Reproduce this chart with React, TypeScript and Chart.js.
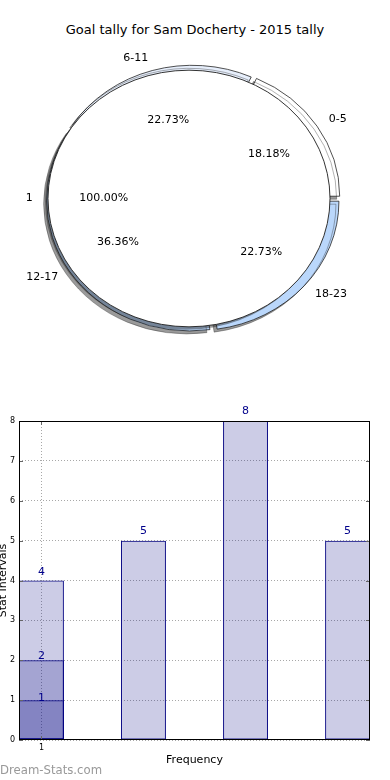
import React, { useEffect, useRef } from 'react';
import { Chart, registerables } from 'chart.js';

Chart.register(...registerables);

const FONT = "'DejaVu Sans', 'Bitstream Vera Sans', sans-serif";

// ---------- Pie data ----------
const pieTitle = 'Goal tally for Sam Docherty - 2015 tally';
const intervalLabels = ['0-5', '6-11', '12-17', '18-23'];
const intervalCounts = [4, 5, 8, 5];
const intervalColors = ['#ffffff', '#e7effc', '#bad7fb', '#bad7fb'];
const matchLabels = ['1'];
const matchCounts = [22];
const matchColors = ['#ffffff'];

// ---------- Bar data ----------
const barPositions = [0, 1, 2, 3];
const barValues = [4, 5, 8, 5];
const overlayPositions = [0];
const overlayMid = [2];
const overlayLow = [1];
const xTickPositions = [0];
const xTickLabels = ['1'];
const yAxisMin = 0;
const yAxisMax = 8;
const yAxisStep = 1;
const xAxisTitle = 'Frequency';
const yAxisTitle = 'Stat Intervals';
const watermark = 'Dream-Stats.com';

// ---------- Styling ----------
const SY = 0.91; // vertical squash of the pie (ellipse)
const PIE_R = 142;
const INNER_R = 136.5;
const EXPLODE = 18; // Chart.js offset (drawn as offset / 4 px)
const BAR_WIDTH = 0.44;
const BAR_FILL = 'rgba(0,0,128,0.2)';
const BAR_EDGE = '#000080';
const GRID = '#a8a8a8';

const ellipsePlugin = {
  id: 'ellipse',
  beforeDatasetsDraw(chart: any) {
    const ctx = chart.ctx;
    ctx.save();
    const arc = chart.getDatasetMeta(0).data[0];
    if (!arc) return;
    ctx.translate(arc.x, arc.y);
    ctx.scale(1, SY);
    ctx.translate(-arc.x, -arc.y);
    ctx.shadowColor = 'rgba(30,30,30,0.45)';
    ctx.shadowOffsetX = -3;
    ctx.shadowOffsetY = 3;
    ctx.shadowBlur = 0;
  },
  afterDatasetsDraw(chart: any, _args: any, opts: any) {
    const ctx = chart.ctx;
    const arc = chart.getDatasetMeta(0).data[0];
    if (arc && opts && opts.outline) {
      // full single slice: redraw as a seamless circle (no radial seam) and outline it
      const e = (arc.options.offset || 0) / 4;
      const mid = (arc.startAngle + arc.endAngle) / 2;
      ctx.shadowColor = 'rgba(0,0,0,0)';
      ctx.beginPath();
      ctx.arc(arc.x + Math.cos(mid) * e, arc.y + Math.sin(mid) * e, arc.outerRadius + e, 0, Math.PI * 2);
      ctx.fillStyle = arc.options.backgroundColor;
      ctx.fill();
      ctx.lineWidth = 0.9;
      ctx.strokeStyle = '#111';
      ctx.stroke();
    }
    ctx.restore();
  },
};

function makePieLabelPlugin(getOuter: () => any) {
  return {
    id: 'pieLabels',
    afterDraw(chart: any) {
      const outer = getOuter();
      if (!outer) return;
      const refArc = outer.getDatasetMeta(0).data[0];
      if (!refArc) return;
      const R = refArc.outerRadius;
      const ctx = chart.ctx;
      ctx.save();
      ctx.font = `11px ${FONT}`;
      ctx.fillStyle = '#000';
      ctx.textBaseline = 'middle';
      for (const c of [outer, chart]) {
        const meta = c.getDatasetMeta(0);
        const values = c.data.datasets[0].data as number[];
        const total = values.reduce((s, v) => s + v, 0);
        meta.data.forEach((arc: any, i: number) => {
          const mid = (arc.startAngle + arc.endAngle) / 2;
          const e = (arc.options.offset || 0) / 4;
          const cos = Math.cos(mid);
          const sin = Math.sin(mid);
          const at = (d: number) => [arc.x + cos * d, arc.y + sin * d * SY];
          const [lx, ly] = at(e + 1.1 * R);
          ctx.textAlign = cos > 0 ? 'left' : 'right';
          ctx.fillText(String(c.data.labels[i]), lx, ly);
          const [px, py] = at(e + 0.6 * R);
          ctx.textAlign = 'center';
          ctx.fillText(((values[i] / total) * 100).toFixed(2) + '%', px, py);
        });
      }
      ctx.restore();
    },
  };
}

const barValuePlugin = {
  id: 'barValues',
  afterDatasetsDraw(chart: any) {
    const ctx = chart.ctx;
    const yScale = chart.scales.y;
    ctx.save();
    ctx.font = `11px ${FONT}`;
    ctx.fillStyle = '#00008b';
    ctx.textAlign = 'center';
    ctx.textBaseline = 'middle';
    chart.data.datasets.forEach((ds: any, di: number) => {
      const meta = chart.getDatasetMeta(di);
      meta.data.forEach((bar: any, i: number) => {
        const v = ds.data[i].y;
        const y = yScale.getPixelForValue(Math.min(v * 1.05, v + 0.25));
        ctx.fillText(String(v), bar.x, y);
      });
    });
    ctx.restore();
  },
};

const framePlugin = {
  id: 'frame',
  afterDatasetsDraw(chart: any) {
    const { left, top, right, bottom, width, height } = chart.chartArea;
    const ctx = chart.ctx;
    ctx.save();
    // inward tick marks (matplotlib style)
    ctx.strokeStyle = '#666';
    ctx.lineWidth = 1;
    ctx.beginPath();
    const ys = chart.scales.y;
    ys.ticks.forEach((_t: any, i: number) => {
      const y = Math.round(ys.getPixelForTick(i)) + 0.5;
      ctx.moveTo(left, y);
      ctx.lineTo(left + 4, y);
      ctx.moveTo(right - 4, y);
      ctx.lineTo(right, y);
    });
    const xs = chart.scales.x;
    xs.ticks.forEach((_t: any, i: number) => {
      const x = Math.round(xs.getPixelForTick(i)) + 0.5;
      ctx.moveTo(x, bottom);
      ctx.lineTo(x, bottom - 4);
      ctx.moveTo(x, top);
      ctx.lineTo(x, top + 4);
    });
    ctx.stroke();
    ctx.strokeStyle = '#000';
    ctx.strokeRect(left + 0.5, top + 0.5, width - 1, height - 1);
    ctx.restore();
  },
};

function pieOptions(radius: number, outline: boolean): any {
  return {
    responsive: false,
    animation: false,
    events: [],
    rotation: 90,
    radius,
    layout: { padding: { top: 17, right: 3, bottom: 0, left: 0 } },
    plugins: {
      legend: { display: false },
      tooltip: { enabled: false },
      title: { display: false },
      ellipse: { outline },
    },
  };
}

export default function App() {
  const outerRef = useRef<HTMLCanvasElement>(null);
  const innerRef = useRef<HTMLCanvasElement>(null);
  const barRef = useRef<HTMLCanvasElement>(null);

  useEffect(() => {
    let outer: any = null;
    const rev = <T,>(a: T[]) => a.slice().reverse();

    outer = new Chart(outerRef.current as HTMLCanvasElement, {
      type: 'pie',
      data: {
        labels: rev(intervalLabels),
        datasets: [
          {
            data: rev(intervalCounts),
            backgroundColor: rev(intervalColors),
            borderColor: '#1a1a1a',
            borderWidth: 0.8,
            offset: EXPLODE,
            hoverOffset: 0,
            clip: false,
          } as any,
        ],
      },
      options: pieOptions(PIE_R, false),
      plugins: [ellipsePlugin as any],
    });

    const inner = new Chart(innerRef.current as HTMLCanvasElement, {
      type: 'pie',
      data: {
        labels: matchLabels,
        datasets: [
          {
            data: matchCounts,
            backgroundColor: matchColors,
            borderWidth: 0,
            offset: EXPLODE,
            hoverOffset: 0,
            clip: false,
          } as any,
        ],
      },
      options: pieOptions(INNER_R, true),
      plugins: [ellipsePlugin as any, makePieLabelPlugin(() => outer) as any],
    });

    const common = {
      backgroundColor: BAR_FILL,
      borderColor: BAR_EDGE,
      borderWidth: 1,
      borderSkipped: false,
      grouped: false,
      barPercentage: BAR_WIDTH,
      categoryPercentage: 1,
    };

    const bar = new Chart(barRef.current as HTMLCanvasElement, {
      type: 'bar',
      data: {
        datasets: [
          { ...common, data: barPositions.map((x, i) => ({ x, y: barValues[i] })) },
          { ...common, data: overlayPositions.map((x, i) => ({ x, y: overlayMid[i] })) },
          { ...common, data: overlayPositions.map((x, i) => ({ x, y: overlayLow[i] })) },
        ] as any,
      },
      options: {
        responsive: false,
        animation: false,
        events: [],
        layout: { padding: { top: 31, right: 20, bottom: 0, left: 0 } },
        plugins: { legend: { display: false }, tooltip: { enabled: false } },
        scales: {
          x: {
            type: 'linear',
            offset: false,
            min: barPositions[0] - BAR_WIDTH / 2,
            max: barPositions[barPositions.length - 1] + BAR_WIDTH / 2,
            afterBuildTicks: (s: any) => {
              s.ticks = xTickPositions.map((value) => ({ value }));
            },
            afterFit: (s: any) => {
              s.height = 40;
            },
            ticks: {
              callback: (_v: any, i: number) => xTickLabels[i],
              font: { size: 8, family: FONT },
              color: '#000',
              padding: 3,
              maxRotation: 0,
              autoSkip: false,
            },
            grid: { display: true, color: GRID, lineWidth: 1, drawTicks: false, offset: false },
            border: { display: false, dash: [1, 2] },
            title: {
              display: true,
              text: xAxisTitle,
              font: { size: 11, family: FONT },
              color: '#000',
              padding: { top: 0, bottom: 13.4 },
            },
          } as any,
          y: {
            min: yAxisMin,
            max: yAxisMax,
            afterFit: (s: any) => {
              s.width = 19;
            },
            ticks: { stepSize: yAxisStep, font: { size: 8, family: FONT }, color: '#000', padding: 4 },
            grid: { display: true, color: GRID, lineWidth: 1, drawTicks: false },
            border: { display: false, dash: [1, 2] },
            title: {
              display: true,
              text: yAxisTitle,
              font: { size: 11, family: FONT },
              color: '#000',
              padding: { top: -3, bottom: 0 },
            },
          } as any,
        },
      } as any,
      plugins: [framePlugin as any, barValuePlugin as any],
    });

    return () => {
      bar.destroy();
      inner.destroy();
      outer.destroy();
    };
  }, []);

  return (
    <div style={{ position: 'absolute', left: 0, top: 0, width: 390, height: 780, background: '#fff', overflow: 'hidden' }}>
      <div
        style={{
          position: 'absolute', left: 0, top: 22, width: 390, textAlign: 'center',
          fontFamily: FONT, fontSize: 13, lineHeight: '16px', color: '#000',
        }}
      >
        {pieTitle}
      </div>
      <canvas ref={outerRef} width={390} height={380} style={{ position: 'absolute', left: 0, top: 0 }} />
      <canvas ref={innerRef} width={390} height={380} style={{ position: 'absolute', left: 0, top: 0 }} />
      <canvas ref={barRef} width={390} height={390} style={{ position: 'absolute', left: 0, top: 390 }} />
      <div
        style={{
          position: 'absolute', left: 0, top: 763, fontFamily: FONT, fontSize: 11.7,
          lineHeight: '14px', color: '#999', whiteSpace: 'nowrap',
        }}
      >
        {watermark}
      </div>
    </div>
  );
}
